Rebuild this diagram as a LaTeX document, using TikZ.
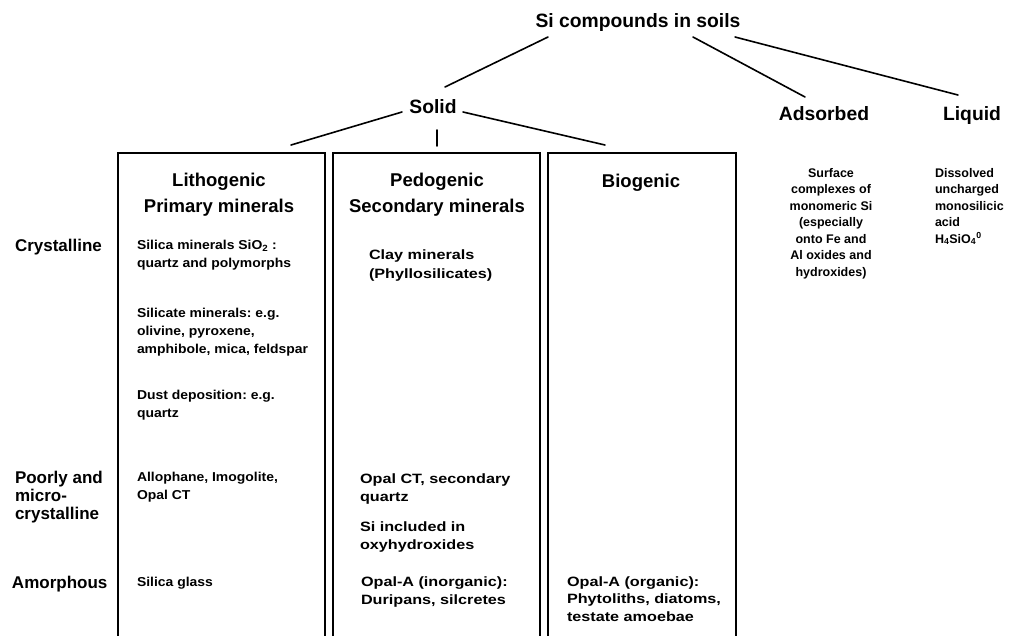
\documentclass[tikz,border=0pt]{standalone}
\usepackage{fontspec}
\setmainfont{Liberation Sans}
\newfontfamily\widea[FakeStretch=1.08]{Liberation Sans}
\newfontfamily\wideb[FakeStretch=1.2]{Liberation Sans}
\frenchspacing
\begin{document}
\begin{tikzpicture}[x=1pt,y=-1pt,
  every node/.style={inner sep=0pt, outer sep=0pt},
  conn/.style={line width=1.6pt, line cap=round},
  boxline/.style={line width=1.5pt},
  boxarea/.style={anchor=north west, minimum height=495pt},
  toplab/.style={font=\bfseries\fontsize{19.3}{22}\selectfont, anchor=base},
  head/.style={font=\bfseries\fontsize{18.5}{26}\selectfont, align=center, anchor=base},
  body/.style={font=\widea\bfseries\fontsize{12.9}{18}\selectfont, align=left, anchor=base west},
  bodyb/.style={font=\wideb\bfseries\fontsize{13.5}{18}\selectfont, align=left, anchor=base west},
  rowlab/.style={font=\bfseries\fontsize{17}{18}\selectfont, align=left, anchor=base west},
  side/.style={font=\bfseries\fontsize{12.5}{16.5}\selectfont, anchor=base}
]
\useasboundingbox (0,0) rectangle (1019,635);

% top level
\node[toplab] (title) at (638,27) {Si compounds in soils};
\node[toplab] (solid) at (433,113) {Solid};
\node[toplab] (adsorbed) at (824,120) {Adsorbed};
\node[toplab] (liquid) at (972,120) {Liquid};

% boxes (open at the bottom)
\node[boxarea, minimum width=207pt] (b1) at (118,153) {};
\node[boxarea, minimum width=207pt] (b2) at (333,153) {};
\node[boxarea, minimum width=188pt] (b3) at (548,153) {};
\foreach \b in {b1,b2,b3}
  \draw[boxline] (\b.south west) -- (\b.north west) -- (\b.north east) -- (\b.south east);

% connectors
\draw[conn] ([shift={(-90,10)}]title.base) -- ([shift={(12,-26)}]solid.base);
\draw[conn] ([shift={(55,10)}]title.base) -- ([shift={(-19,-23)}]adsorbed.base);
\draw[conn] ([shift={(97,10)}]title.base) -- ([shift={(-14,-25)}]liquid.base);
\draw[conn] ([shift={(-31,-1)}]solid.base) -- ([shift={(173,-8)}]b1.north west);
\draw[conn] ([shift={(4,17)}]solid.base) -- ([shift={(0.5,-7)}]b2.north);
\draw[conn] ([shift={(30,-1)}]solid.base) -- ([shift={(57,-8)}]b3.north west);

% box headers (base = last line)
\node[head] (h1) at (219,212) {Lithogenic\\Primary minerals};
\node[head] (h2) at (437,212) {Pedogenic\\Secondary minerals};
\node[head] (h3) at (641,187) {Biogenic};

% row labels
\node[rowlab] (r1) at (15,251) {Crystalline};
\node[rowlab] (r2) at (15,519) {Poorly and\\micro-\\crystalline};
\node[rowlab] (r3) at (12,588) {Amorphous};

% box 1
\node[body] (l1) at (137,267) {Silica minerals SiO\textsubscript{2} :\\quartz and polymorphs};
\node[body] (l2) at (137,353) {Silicate minerals: e.g.\\olivine, pyroxene,\\amphibole, mica, feldspar};
\node[body] (l3) at (137,417) {Dust deposition: e.g.\\quartz};
\node[body] (l4) at (137,499) {Allophane, Imogolite,\\Opal CT};
\node[body] (l5) at (137,586) {Silica glass};

% box 2
\node[bodyb, font=\wideb\bfseries\fontsize{13.5}{19.5}\selectfont] (p1) at (369,278.5) {Clay minerals\\(Phyllosilicates)};
\node[bodyb] (p2) at (360,501) {Opal CT, secondary\\quartz};
\node[bodyb] (p3) at (360,549) {Si included in\\oxyhydroxides};
\node[bodyb] (p4) at (361,604) {Opal-A (inorganic):\\Duripans, silcretes};

% box 3
\node[bodyb, font=\wideb\bfseries\fontsize{13.5}{17.5}\selectfont] (g1) at (567,621) {Opal-A (organic):\\Phytoliths, diatoms,\\testate amoebae};

% adsorbed and liquid texts
\node[side, align=center] (a1) at (831,276) {Surface\\complexes of\\monomeric Si\\(especially\\onto Fe and\\Al oxides and\\hydroxides)};
\node[side, align=left, anchor=base west] (q1) at (935,243) {Dissolved\\uncharged\\monosilicic\\acid\\H\textsubscript{4}SiO\textsubscript{4}\textsuperscript{0}};
\end{tikzpicture}
\end{document}
